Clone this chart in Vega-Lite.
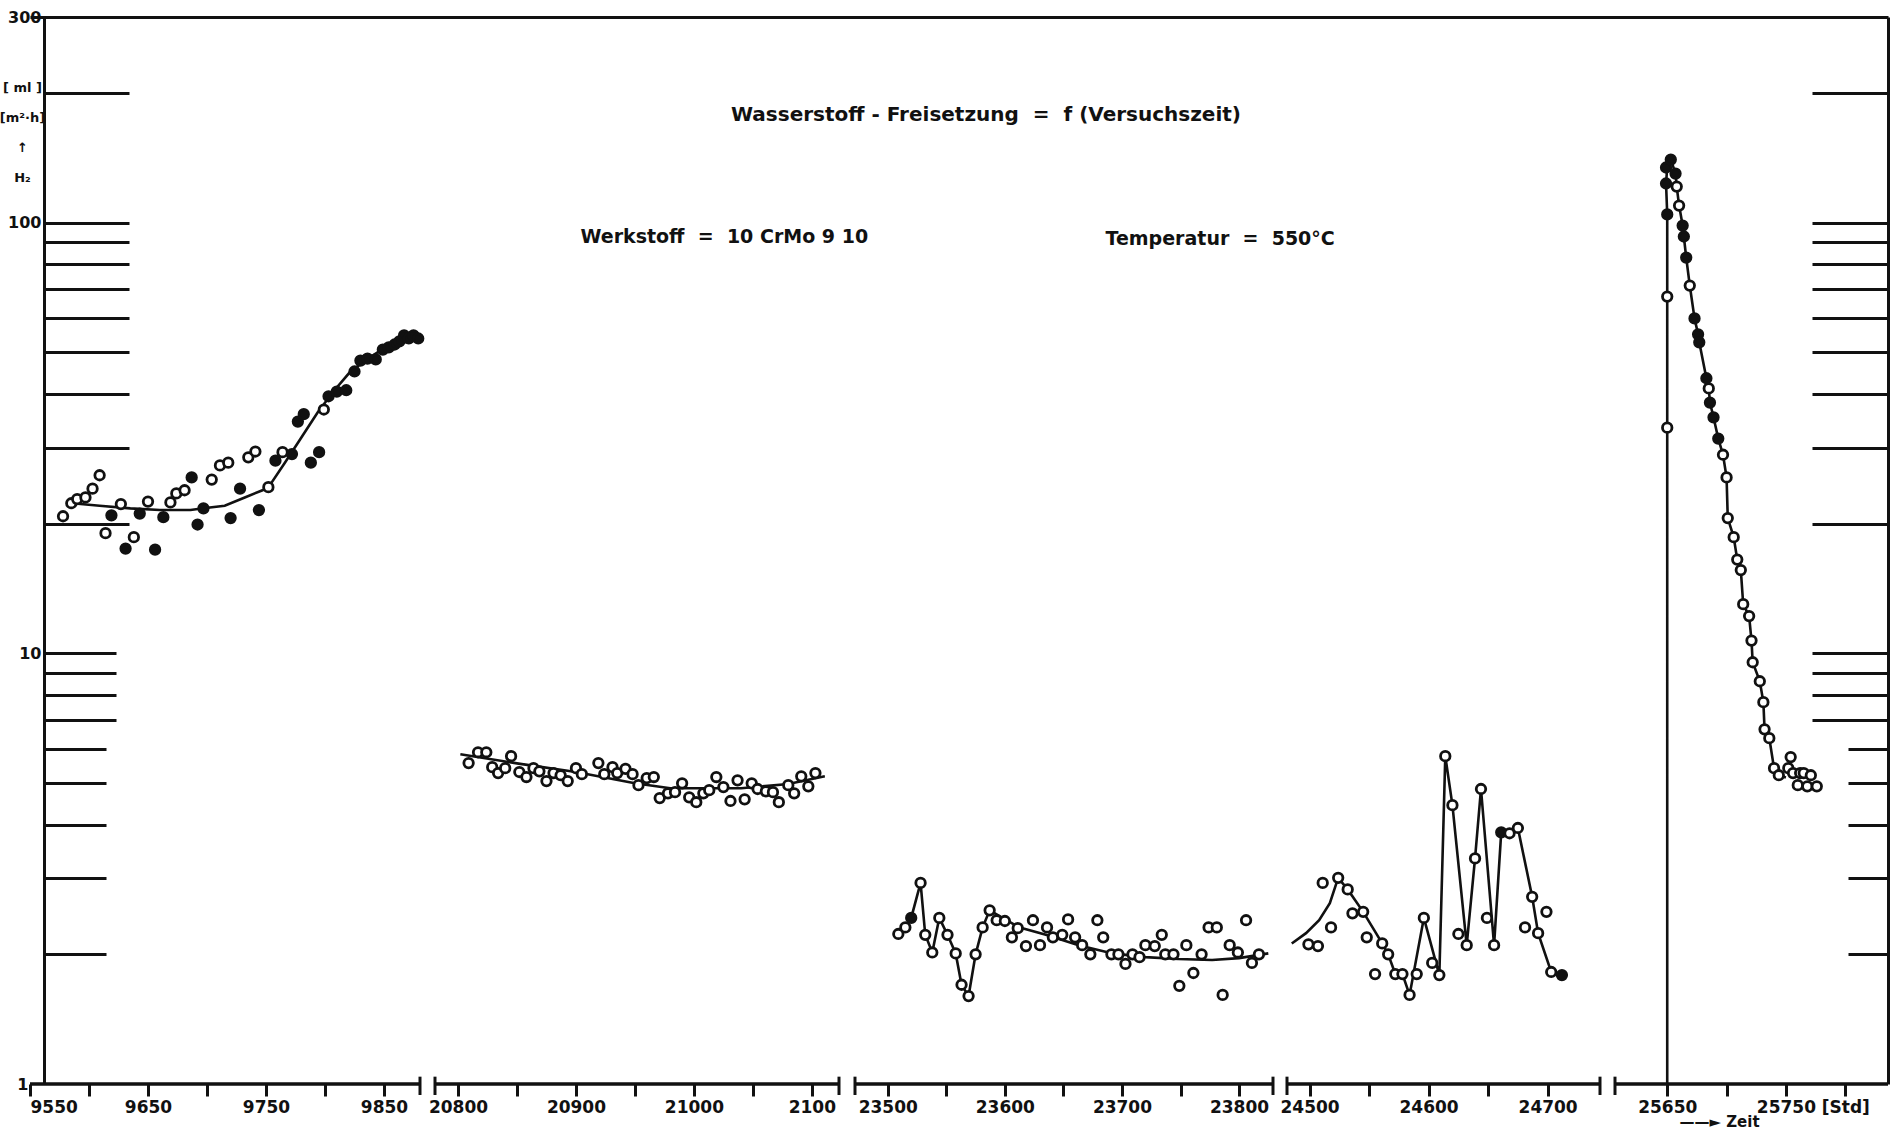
{
  "$schema": "https://vega.github.io/schema/vega-lite/v6.json",
  "width": 1844,
  "height": 1067,
  "autosize": {"type": "none"},
  "padding": {"left": 44, "top": 17, "right": 6, "bottom": 46},
  "background": "white",
  "config": {
    "view": {"stroke": null},
    "font": "DejaVu Sans",
    "axis": {"domainColor": "#111", "tickColor": "#111", "labelColor": "#111", "titleColor": "#111", "grid": false}
  },
  "title": {
    "text": "Wasserstoff - Freisetzung\u00a0\u00a0=\u00a0\u00a0f (Versuchszeit)",
    "anchor": "middle",
    "orient": "top",
    "offset": -116,
    "dx": 20,
    "font": "DejaVu Sans",
    "fontSize": 20,
    "fontWeight": "bold",
    "color": "#111"
  },
  "datasets": {
    "seg": [
      {"a": 9550, "b": 9880.5},
      {"a": 20780.5, "b": 21123},
      {"a": 23472, "b": 23829},
      {"a": 24481, "b": 24744},
      {"a": 25606, "b": 25836}
    ],
    "brk": [
      {"t": 9880.5}, {"t": 20780.5}, {"t": 21123}, {"t": 23472},
      {"t": 23829}, {"t": 24481}, {"t": 24744}, {"t": 25606}
    ],
    "lns": [
      {"s": 1, "i": 0, "t": 9586, "v": 22.3},
      {"s": 1, "i": 1, "t": 9609, "v": 22.0},
      {"s": 1, "i": 2, "t": 9635, "v": 21.7},
      {"s": 1, "i": 3, "t": 9660, "v": 21.5},
      {"s": 1, "i": 4, "t": 9686, "v": 21.5},
      {"s": 1, "i": 5, "t": 9697, "v": 21.7},
      {"s": 1, "i": 6, "t": 9715, "v": 22.0},
      {"s": 1, "i": 7, "t": 9732, "v": 23.0},
      {"s": 1, "i": 8, "t": 9747, "v": 23.9},
      {"s": 1, "i": 9, "t": 9753, "v": 24.5},
      {"s": 1, "i": 10, "t": 9766, "v": 27.7},
      {"s": 1, "i": 11, "t": 9779, "v": 31.4},
      {"s": 1, "i": 12, "t": 9794, "v": 36.3},
      {"s": 1, "i": 13, "t": 9808, "v": 40.8},
      {"s": 1, "i": 14, "t": 9821, "v": 44.9},
      {"s": 1, "i": 15, "t": 9834, "v": 47.8},
      {"s": 1, "i": 16, "t": 9847, "v": 50.5},
      {"s": 1, "i": 17, "t": 9864, "v": 52.4},
      {"s": 1, "i": 18, "t": 9879, "v": 53.8},
      {"s": 2, "i": 19, "t": 20802, "v": 5.83},
      {"s": 2, "i": 20, "t": 20850, "v": 5.55},
      {"s": 2, "i": 21, "t": 20900, "v": 5.30},
      {"s": 2, "i": 22, "t": 20950, "v": 4.99},
      {"s": 2, "i": 23, "t": 20980, "v": 4.86},
      {"s": 2, "i": 24, "t": 21040, "v": 4.86},
      {"s": 2, "i": 25, "t": 21080, "v": 4.97},
      {"s": 2, "i": 26, "t": 21111, "v": 5.18},
      {"s": 3, "i": 27, "t": 23509, "v": 2.23},
      {"s": 3, "i": 28, "t": 23515, "v": 2.31},
      {"s": 3, "i": 29, "t": 23520, "v": 2.43},
      {"s": 3, "i": 30, "t": 23528, "v": 2.93},
      {"s": 3, "i": 31, "t": 23532, "v": 2.22},
      {"s": 3, "i": 32, "t": 23538, "v": 2.02},
      {"s": 3, "i": 33, "t": 23544, "v": 2.43},
      {"s": 3, "i": 34, "t": 23551, "v": 2.22},
      {"s": 3, "i": 35, "t": 23558, "v": 2.01},
      {"s": 3, "i": 36, "t": 23563, "v": 1.70},
      {"s": 3, "i": 37, "t": 23569, "v": 1.60},
      {"s": 3, "i": 38, "t": 23575, "v": 2.00},
      {"s": 3, "i": 39, "t": 23581, "v": 2.31},
      {"s": 3, "i": 40, "t": 23587, "v": 2.53},
      {"s": 3, "i": 41, "t": 23612, "v": 2.31},
      {"s": 3, "i": 42, "t": 23635, "v": 2.22},
      {"s": 3, "i": 43, "t": 23663, "v": 2.10},
      {"s": 3, "i": 44, "t": 23692, "v": 2.01},
      {"s": 3, "i": 45, "t": 23720, "v": 1.97},
      {"s": 3, "i": 46, "t": 23748, "v": 1.95},
      {"s": 3, "i": 47, "t": 23777, "v": 1.94},
      {"s": 3, "i": 48, "t": 23800, "v": 1.96},
      {"s": 3, "i": 49, "t": 23825, "v": 2.01},
      {"s": 4, "i": 50, "t": 24485, "v": 2.12},
      {"s": 4, "i": 51, "t": 24497, "v": 2.24},
      {"s": 4, "i": 52, "t": 24508, "v": 2.40},
      {"s": 4, "i": 53, "t": 24517, "v": 2.63},
      {"s": 4, "i": 54, "t": 24524, "v": 3.01},
      {"s": 4, "i": 55, "t": 24532, "v": 2.83},
      {"s": 4, "i": 56, "t": 24545, "v": 2.51},
      {"s": 4, "i": 57, "t": 24561, "v": 2.12},
      {"s": 4, "i": 58, "t": 24566, "v": 2.00},
      {"s": 4, "i": 59, "t": 24572, "v": 1.80},
      {"s": 4, "i": 60, "t": 24578, "v": 1.80},
      {"s": 4, "i": 61, "t": 24584, "v": 1.61},
      {"s": 4, "i": 62, "t": 24596, "v": 2.43},
      {"s": 4, "i": 63, "t": 24609, "v": 1.79},
      {"s": 4, "i": 64, "t": 24614, "v": 5.77},
      {"s": 4, "i": 65, "t": 24620, "v": 4.44},
      {"s": 4, "i": 66, "t": 24632, "v": 2.10},
      {"s": 4, "i": 67, "t": 24639, "v": 3.34},
      {"s": 4, "i": 68, "t": 24644, "v": 4.84},
      {"s": 4, "i": 69, "t": 24655, "v": 2.10},
      {"s": 4, "i": 70, "t": 24661, "v": 3.84},
      {"s": 4, "i": 71, "t": 24668, "v": 3.82},
      {"s": 4, "i": 72, "t": 24675, "v": 3.93},
      {"s": 4, "i": 73, "t": 24687, "v": 2.72},
      {"s": 4, "i": 74, "t": 24692, "v": 2.24},
      {"s": 4, "i": 75, "t": 24703, "v": 1.82},
      {"s": 4, "i": 76, "t": 24712, "v": 1.79},
      {"s": 5, "i": 77, "t": 25650, "v": 1},
      {"s": 5, "i": 78, "t": 25650, "v": 33.4},
      {"s": 5, "i": 79, "t": 25650, "v": 67.3},
      {"s": 5, "i": 80, "t": 25650, "v": 104.4},
      {"s": 5, "i": 81, "t": 25649, "v": 123.2},
      {"s": 5, "i": 82, "t": 25650, "v": 134.2},
      {"s": 5, "i": 83, "t": 25653, "v": 140.0},
      {"s": 5, "i": 84, "t": 25657, "v": 129.9},
      {"s": 5, "i": 85, "t": 25658, "v": 121.2},
      {"s": 5, "i": 86, "t": 25660, "v": 109.5},
      {"s": 5, "i": 87, "t": 25663, "v": 98.4},
      {"s": 5, "i": 88, "t": 25664, "v": 92.8},
      {"s": 5, "i": 89, "t": 25666, "v": 82.9},
      {"s": 5, "i": 90, "t": 25669, "v": 71.4},
      {"s": 5, "i": 91, "t": 25673, "v": 59.9},
      {"s": 5, "i": 92, "t": 25676, "v": 55.0},
      {"s": 5, "i": 93, "t": 25677, "v": 52.7},
      {"s": 5, "i": 94, "t": 25683, "v": 43.5},
      {"s": 5, "i": 95, "t": 25685, "v": 41.2},
      {"s": 5, "i": 96, "t": 25686, "v": 38.2},
      {"s": 5, "i": 97, "t": 25689, "v": 35.3},
      {"s": 5, "i": 98, "t": 25693, "v": 31.5},
      {"s": 5, "i": 99, "t": 25697, "v": 28.9},
      {"s": 5, "i": 100, "t": 25700, "v": 25.6},
      {"s": 5, "i": 101, "t": 25701, "v": 20.6},
      {"s": 5, "i": 102, "t": 25706, "v": 18.6},
      {"s": 5, "i": 103, "t": 25709, "v": 16.5},
      {"s": 5, "i": 104, "t": 25712, "v": 15.6},
      {"s": 5, "i": 105, "t": 25714, "v": 13.0},
      {"s": 5, "i": 106, "t": 25719, "v": 12.2},
      {"s": 5, "i": 107, "t": 25721, "v": 10.7},
      {"s": 5, "i": 108, "t": 25722, "v": 9.53},
      {"s": 5, "i": 109, "t": 25728, "v": 8.61},
      {"s": 5, "i": 110, "t": 25731, "v": 7.70},
      {"s": 5, "i": 111, "t": 25732, "v": 6.66},
      {"s": 5, "i": 112, "t": 25736, "v": 6.35},
      {"s": 5, "i": 113, "t": 25740, "v": 5.41},
      {"s": 5, "i": 114, "t": 25744, "v": 5.21},
      {"s": 5, "i": 115, "t": 25750, "v": 5.15}
    ],
    "pts": [
      {"t": 9578, "v": 20.8, "f": 0}, {"t": 9585, "v": 22.3, "f": 0}, {"t": 9590, "v": 22.8, "f": 0},
      {"t": 9597, "v": 23.0, "f": 0}, {"t": 9603, "v": 24.1, "f": 0}, {"t": 9609, "v": 25.9, "f": 0},
      {"t": 9614, "v": 19.0, "f": 0}, {"t": 9619, "v": 20.9, "f": 1}, {"t": 9627, "v": 22.2, "f": 0},
      {"t": 9631, "v": 17.5, "f": 1}, {"t": 9638, "v": 18.6, "f": 0}, {"t": 9643, "v": 21.1, "f": 1},
      {"t": 9650, "v": 22.5, "f": 0}, {"t": 9656, "v": 17.4, "f": 1}, {"t": 9663, "v": 20.7, "f": 1},
      {"t": 9669, "v": 22.4, "f": 0}, {"t": 9674, "v": 23.5, "f": 0}, {"t": 9681, "v": 23.9, "f": 0},
      {"t": 9687, "v": 25.6, "f": 1}, {"t": 9692, "v": 19.9, "f": 1}, {"t": 9697, "v": 21.7, "f": 1},
      {"t": 9704, "v": 25.3, "f": 0}, {"t": 9711, "v": 27.3, "f": 0}, {"t": 9718, "v": 27.7, "f": 0},
      {"t": 9720, "v": 20.6, "f": 1}, {"t": 9728, "v": 24.1, "f": 1}, {"t": 9735, "v": 28.5, "f": 0},
      {"t": 9741, "v": 29.4, "f": 0}, {"t": 9744, "v": 21.5, "f": 1}, {"t": 9752, "v": 24.3, "f": 0},
      {"t": 9758, "v": 28.0, "f": 1}, {"t": 9764, "v": 29.3, "f": 0}, {"t": 9772, "v": 29.0, "f": 1},
      {"t": 9777, "v": 34.5, "f": 1}, {"t": 9782, "v": 35.9, "f": 1}, {"t": 9788, "v": 27.7, "f": 1},
      {"t": 9795, "v": 29.3, "f": 1}, {"t": 9799, "v": 36.8, "f": 0}, {"t": 9803, "v": 39.5, "f": 1},
      {"t": 9810, "v": 40.5, "f": 1}, {"t": 9818, "v": 40.8, "f": 1}, {"t": 9825, "v": 45.1, "f": 1},
      {"t": 9830, "v": 47.8, "f": 1}, {"t": 9836, "v": 48.3, "f": 1}, {"t": 9843, "v": 48.1, "f": 1},
      {"t": 9849, "v": 50.7, "f": 1}, {"t": 9854, "v": 51.3, "f": 1}, {"t": 9859, "v": 52.1, "f": 1},
      {"t": 9863, "v": 53.0, "f": 1}, {"t": 9867, "v": 54.7, "f": 1}, {"t": 9871, "v": 53.8, "f": 1},
      {"t": 9875, "v": 54.7, "f": 1}, {"t": 9879, "v": 53.8, "f": 1},
      {"t": 20809, "v": 5.56, "f": 0}, {"t": 20817, "v": 5.89, "f": 0}, {"t": 20824, "v": 5.89, "f": 0},
      {"t": 20829, "v": 5.44, "f": 0}, {"t": 20834, "v": 5.27, "f": 0}, {"t": 20840, "v": 5.41, "f": 0},
      {"t": 20845, "v": 5.77, "f": 0}, {"t": 20852, "v": 5.30, "f": 0}, {"t": 20858, "v": 5.16, "f": 0},
      {"t": 20864, "v": 5.41, "f": 0}, {"t": 20869, "v": 5.32, "f": 0}, {"t": 20875, "v": 5.05, "f": 0},
      {"t": 20881, "v": 5.27, "f": 0}, {"t": 20887, "v": 5.21, "f": 0}, {"t": 20893, "v": 5.05, "f": 0},
      {"t": 20900, "v": 5.41, "f": 0}, {"t": 20905, "v": 5.24, "f": 0}, {"t": 20919, "v": 5.56, "f": 0},
      {"t": 20924, "v": 5.24, "f": 0}, {"t": 20931, "v": 5.44, "f": 0}, {"t": 20935, "v": 5.27, "f": 0},
      {"t": 20942, "v": 5.39, "f": 0}, {"t": 20948, "v": 5.24, "f": 0}, {"t": 20953, "v": 4.94, "f": 0},
      {"t": 20960, "v": 5.13, "f": 0}, {"t": 20966, "v": 5.16, "f": 0}, {"t": 20971, "v": 4.61, "f": 0},
      {"t": 20978, "v": 4.73, "f": 0}, {"t": 20984, "v": 4.76, "f": 0}, {"t": 20990, "v": 4.99, "f": 0},
      {"t": 20996, "v": 4.63, "f": 0}, {"t": 21002, "v": 4.51, "f": 0}, {"t": 21008, "v": 4.73, "f": 0},
      {"t": 21013, "v": 4.81, "f": 0}, {"t": 21019, "v": 5.16, "f": 0}, {"t": 21025, "v": 4.89, "f": 0},
      {"t": 21031, "v": 4.54, "f": 0}, {"t": 21037, "v": 5.07, "f": 0}, {"t": 21043, "v": 4.58, "f": 0},
      {"t": 21049, "v": 4.99, "f": 0}, {"t": 21054, "v": 4.84, "f": 0}, {"t": 21061, "v": 4.78, "f": 0},
      {"t": 21067, "v": 4.76, "f": 0}, {"t": 21072, "v": 4.51, "f": 0}, {"t": 21080, "v": 4.94, "f": 0},
      {"t": 21085, "v": 4.73, "f": 0}, {"t": 21091, "v": 5.18, "f": 0}, {"t": 21097, "v": 4.91, "f": 0},
      {"t": 21103, "v": 5.27, "f": 0},
      {"t": 23509, "v": 2.23, "f": 0}, {"t": 23515, "v": 2.31, "f": 0}, {"t": 23520, "v": 2.43, "f": 1},
      {"t": 23528, "v": 2.93, "f": 0}, {"t": 23532, "v": 2.22, "f": 0}, {"t": 23538, "v": 2.02, "f": 0},
      {"t": 23544, "v": 2.43, "f": 0}, {"t": 23551, "v": 2.22, "f": 0}, {"t": 23558, "v": 2.01, "f": 0},
      {"t": 23563, "v": 1.70, "f": 0}, {"t": 23569, "v": 1.60, "f": 0}, {"t": 23575, "v": 2.00, "f": 0},
      {"t": 23581, "v": 2.31, "f": 0}, {"t": 23587, "v": 2.53, "f": 0}, {"t": 23593, "v": 2.40, "f": 0},
      {"t": 23600, "v": 2.39, "f": 0}, {"t": 23606, "v": 2.19, "f": 0}, {"t": 23611, "v": 2.30, "f": 0},
      {"t": 23618, "v": 2.09, "f": 0}, {"t": 23624, "v": 2.40, "f": 0}, {"t": 23630, "v": 2.10, "f": 0},
      {"t": 23636, "v": 2.31, "f": 0}, {"t": 23641, "v": 2.19, "f": 0}, {"t": 23649, "v": 2.22, "f": 0},
      {"t": 23654, "v": 2.41, "f": 0}, {"t": 23660, "v": 2.19, "f": 0}, {"t": 23666, "v": 2.10, "f": 0},
      {"t": 23673, "v": 2.00, "f": 0}, {"t": 23679, "v": 2.40, "f": 0}, {"t": 23684, "v": 2.19, "f": 0},
      {"t": 23691, "v": 2.00, "f": 0}, {"t": 23697, "v": 2.00, "f": 0}, {"t": 23703, "v": 1.90, "f": 0},
      {"t": 23709, "v": 2.00, "f": 0}, {"t": 23715, "v": 1.97, "f": 0}, {"t": 23720, "v": 2.10, "f": 0},
      {"t": 23728, "v": 2.09, "f": 0}, {"t": 23734, "v": 2.22, "f": 0}, {"t": 23737, "v": 2.00, "f": 0},
      {"t": 23744, "v": 2.00, "f": 0}, {"t": 23749, "v": 1.69, "f": 0}, {"t": 23755, "v": 2.10, "f": 0},
      {"t": 23761, "v": 1.81, "f": 0}, {"t": 23768, "v": 2.00, "f": 0}, {"t": 23774, "v": 2.31, "f": 0},
      {"t": 23781, "v": 2.31, "f": 0}, {"t": 23786, "v": 1.61, "f": 0}, {"t": 23792, "v": 2.10, "f": 0},
      {"t": 23799, "v": 2.02, "f": 0}, {"t": 23806, "v": 2.40, "f": 0}, {"t": 23811, "v": 1.91, "f": 0},
      {"t": 23817, "v": 2.00, "f": 0},
      {"t": 24499, "v": 2.11, "f": 0}, {"t": 24507, "v": 2.09, "f": 0}, {"t": 24511, "v": 2.93, "f": 0},
      {"t": 24518, "v": 2.31, "f": 0}, {"t": 24524, "v": 3.01, "f": 0}, {"t": 24532, "v": 2.83, "f": 0},
      {"t": 24536, "v": 2.49, "f": 0}, {"t": 24545, "v": 2.51, "f": 0}, {"t": 24548, "v": 2.19, "f": 0},
      {"t": 24555, "v": 1.80, "f": 0}, {"t": 24561, "v": 2.12, "f": 0}, {"t": 24566, "v": 2.00, "f": 0},
      {"t": 24572, "v": 1.80, "f": 0}, {"t": 24578, "v": 1.80, "f": 0}, {"t": 24584, "v": 1.61, "f": 0},
      {"t": 24590, "v": 1.80, "f": 0}, {"t": 24596, "v": 2.43, "f": 0}, {"t": 24603, "v": 1.91, "f": 0},
      {"t": 24609, "v": 1.79, "f": 0}, {"t": 24614, "v": 5.77, "f": 0}, {"t": 24620, "v": 4.44, "f": 0},
      {"t": 24625, "v": 2.23, "f": 0}, {"t": 24632, "v": 2.10, "f": 0}, {"t": 24639, "v": 3.34, "f": 0},
      {"t": 24644, "v": 4.84, "f": 0}, {"t": 24649, "v": 2.43, "f": 0}, {"t": 24655, "v": 2.10, "f": 0},
      {"t": 24661, "v": 3.84, "f": 1}, {"t": 24668, "v": 3.82, "f": 0}, {"t": 24675, "v": 3.93, "f": 0},
      {"t": 24681, "v": 2.31, "f": 0}, {"t": 24687, "v": 2.72, "f": 0}, {"t": 24692, "v": 2.24, "f": 0},
      {"t": 24699, "v": 2.51, "f": 0}, {"t": 24703, "v": 1.82, "f": 0}, {"t": 24712, "v": 1.79, "f": 1},
      {"t": 25650, "v": 33.4, "f": 0}, {"t": 25650, "v": 67.3, "f": 0}, {"t": 25650, "v": 104.4, "f": 1},
      {"t": 25649, "v": 123.2, "f": 1}, {"t": 25649, "v": 134.2, "f": 1}, {"t": 25653, "v": 140.0, "f": 1},
      {"t": 25657, "v": 129.9, "f": 1}, {"t": 25658, "v": 121.2, "f": 0}, {"t": 25660, "v": 109.5, "f": 0},
      {"t": 25663, "v": 98.4, "f": 1}, {"t": 25664, "v": 92.8, "f": 1}, {"t": 25666, "v": 82.9, "f": 1},
      {"t": 25669, "v": 71.4, "f": 0}, {"t": 25673, "v": 59.9, "f": 1}, {"t": 25676, "v": 55.0, "f": 1},
      {"t": 25677, "v": 52.7, "f": 1}, {"t": 25683, "v": 43.5, "f": 1}, {"t": 25685, "v": 41.2, "f": 0},
      {"t": 25686, "v": 38.2, "f": 1}, {"t": 25689, "v": 35.3, "f": 1}, {"t": 25693, "v": 31.5, "f": 1},
      {"t": 25697, "v": 28.9, "f": 0}, {"t": 25700, "v": 25.6, "f": 0}, {"t": 25701, "v": 20.6, "f": 0},
      {"t": 25706, "v": 18.6, "f": 0}, {"t": 25709, "v": 16.5, "f": 0}, {"t": 25712, "v": 15.6, "f": 0},
      {"t": 25714, "v": 13.0, "f": 0}, {"t": 25719, "v": 12.2, "f": 0}, {"t": 25721, "v": 10.7, "f": 0},
      {"t": 25722, "v": 9.53, "f": 0}, {"t": 25728, "v": 8.61, "f": 0}, {"t": 25731, "v": 7.70, "f": 0},
      {"t": 25732, "v": 6.66, "f": 0}, {"t": 25736, "v": 6.35, "f": 0}, {"t": 25740, "v": 5.41, "f": 0},
      {"t": 25744, "v": 5.21, "f": 0}, {"t": 25752, "v": 5.41, "f": 0}, {"t": 25754, "v": 5.74, "f": 0},
      {"t": 25756, "v": 5.27, "f": 0}, {"t": 25760, "v": 4.94, "f": 0}, {"t": 25762, "v": 5.27, "f": 0},
      {"t": 25765, "v": 5.27, "f": 0}, {"t": 25768, "v": 4.91, "f": 0}, {"t": 25771, "v": 5.21, "f": 0},
      {"t": 25776, "v": 4.91, "f": 0}
    ]
  },
  "layer": [
    {
      "data": {"name": "seg"},
      "mark": {"type": "rule", "strokeWidth": 3.5, "color": "#111"},
      "encoding": {
        "x": {
          "field": "a", "type": "quantitative",
          "scale": {
            "domain": [9550, 9880.5, 20780.5, 21123, 23472, 23829, 24481, 24744, 25606, 25836],
            "range": [-14, 376, 391, 795, 811, 1229, 1243, 1556, 1571, 1844],
            "nice": false, "zero": false
          },
          "axis": {
            "orient": "bottom",
            "domain": false,
            "values": [9550, 9600, 9650, 9700, 9750, 9800, 9850, 20800, 20850, 20900, 20950, 21000, 21050, 21100, 23500, 23550, 23600, 23650, 23700, 23750, 23800, 24500, 24550, 24600, 24650, 24700, 25650, 25700, 25750, 25800],
            "labelExpr": "datum.value == 25800 ? '[Std]' : (datum.value == 21100 ? '2100' : (indexof([9550,9650,9750,9850,20800,20900,21000,23500,23600,23700,23800,24500,24600,24700,25650,25750], datum.value) >= 0 ? toString(datum.value) : ''))",
            "tickSize": 12,
            "tickWidth": 3,
            "labelPadding": 3,
            "labelFont": "DejaVu Sans",
            "labelFontSize": 17,
            "labelFontWeight": "bold",
            "labelFlush": false,
            "labelOverlap": false,
            "labelAlign": {"condition": {"test": "datum.value == 9550", "value": "left"}, "value": "center"},
            "title": "——► Zeit",
            "titleX": 1675,
            "titleY": 30,
            "titleAlign": "center",
            "titleBaseline": "top",
            "titleFont": "DejaVu Sans",
            "titleFontSize": 15,
            "titleFontWeight": "bold"
          }
        },
        "x2": {"field": "b"},
        "y": {"datum": 1, "type": "quantitative", "axis": null}
      }
    },
    {
      "data": {"name": "brk"},
      "mark": {"type": "rule", "strokeWidth": 3, "color": "#111"},
      "encoding": {
        "x": {"field": "t", "type": "quantitative", "axis": null},
        "y": {"datum": 0.943, "type": "quantitative", "axis": null},
        "y2": {"datum": 1.04}
      }
    },
    {
      "data": {"name": "lns"},
      "mark": {"type": "line", "strokeWidth": 2.6, "color": "#111"},
      "encoding": {
        "x": {
          "field": "t", "type": "quantitative",
          "axis": {
            "orient": "top", "labels": false, "ticks": false, "domain": true, "domainWidth": 3,
            "title": "Werkstoff\u00a0\u00a0=\u00a0\u00a010 CrMo 9 10",
            "titleX": 536,
            "titleY": 219,
            "titleAlign": "left",
            "titleBaseline": "middle",
            "titleAngle": 0,
            "titleFont": "DejaVu Sans",
            "titleFontSize": 19,
            "titleFontWeight": "bold"
          }
        },
        "y": {
          "field": "v", "type": "quantitative",
          "scale": {"type": "log", "domain": [1, 300], "nice": false},
          "axis": {
            "orient": "left",
            "values": [1, 2, 3, 4, 5, 6, 7, 8, 9, 10, 20, 30, 40, 50, 60, 70, 80, 90, 100, 200, 300],
            "labelExpr": "indexof([1,10,100,300], datum.value) >= 0 ? toString(datum.value) : ''",
            "domain": true,
            "domainWidth": 3,
            "tickWidth": 3,
            "tickSize": {"condition": [
              {"test": "datum.value == 1 || datum.value == 300", "value": 0},
              {"test": "datum.value >= 20", "value": -85},
              {"test": "datum.value >= 7", "value": -72}
            ], "value": -62},
            "labelPadding": {"condition": [
              {"test": "datum.value == 100", "value": 88},
              {"test": "datum.value == 10", "value": 75},
              {"test": "datum.value == 1", "value": 16}
            ], "value": 3},
            "labelFont": "DejaVu Sans",
            "labelFontSize": 16,
            "labelFontWeight": "bold",
            "labelFlush": false,
            "labelOverlap": false,
            "title": ["[ ml ]", "[m²·h]", "↑", "H₂"],
            "titleAngle": 0,
            "titleX": -22,
            "titleY": 64,
            "titleAlign": "center",
            "titleBaseline": "top",
            "titleLineHeight": 30,
            "titleFont": "DejaVu Sans",
            "titleFontSize": 13,
            "titleFontWeight": "bold"
          }
        },
        "detail": {"field": "s", "type": "nominal"},
        "order": {"field": "i", "type": "quantitative"}
      }
    },
    {
      "data": {"name": "pts"},
      "mark": {"type": "point", "shape": "circle", "size": 90, "strokeWidth": 2.8, "stroke": "#111", "opacity": 1, "filled": false},
      "encoding": {
        "x": {"field": "t", "type": "quantitative", "axis": null},
        "y": {
          "field": "v", "type": "quantitative",
          "axis": {
            "orient": "right",
            "values": [2, 3, 4, 5, 6, 7, 8, 9, 10, 20, 30, 40, 50, 60, 70, 80, 90, 100, 200],
            "labels": false,
            "domain": true,
            "domainWidth": 3,
            "tickWidth": 3,
            "tickSize": {"condition": [
              {"test": "datum.value >= 7", "value": -76}
            ], "value": -40},
            "title": "Temperatur\u00a0\u00a0=\u00a0\u00a0550°C",
            "titleX": -783,
            "titleY": 221,
            "titleAlign": "left",
            "titleBaseline": "middle",
            "titleAngle": 0,
            "titleFont": "DejaVu Sans",
            "titleFontSize": 19,
            "titleFontWeight": "bold"
          }
        },
        "fill": {"field": "f", "type": "nominal", "scale": {"domain": [0, 1], "range": ["white", "#111"]}, "legend": null}
      }
    }
  ],
  "resolve": {"axis": {"x": "independent", "y": "independent"}}
}
